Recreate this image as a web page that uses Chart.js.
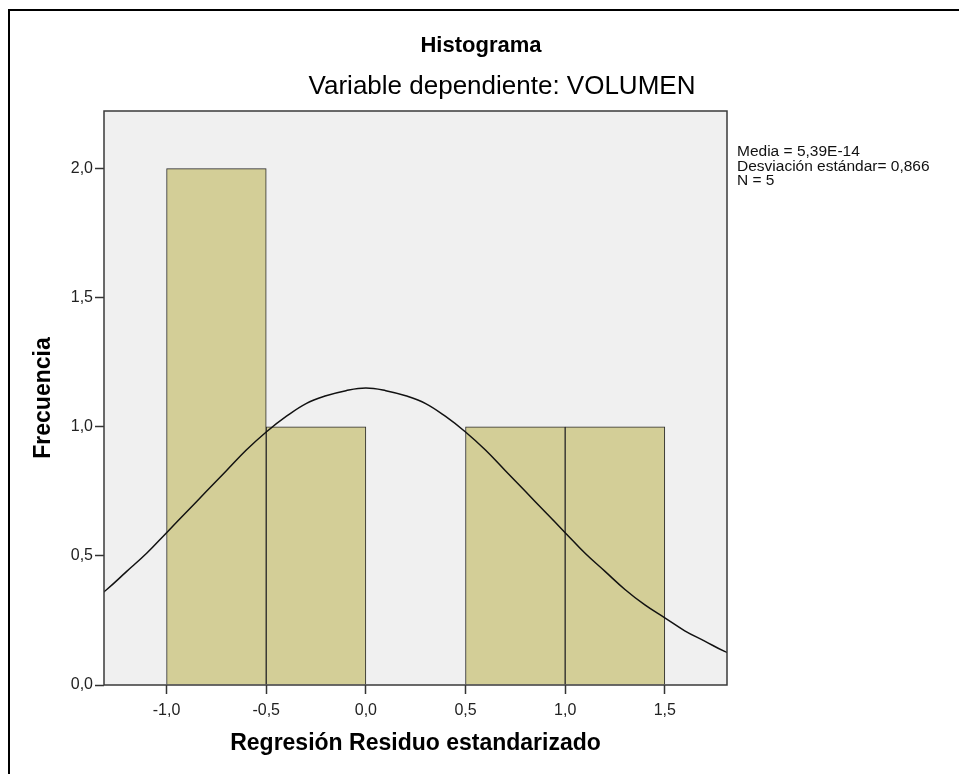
<!DOCTYPE html>
<html>
<head>
<meta charset="utf-8">
<title>Histograma</title>
<script src="https://cdn.jsdelivr.net/npm/chart.js@4.4.1/dist/chart.umd.min.js"></script>
<style>
  html, body { margin: 0; padding: 0; background: #fff; }
  canvas { display: block; }
</style>
</head>
<body>
<canvas id="histChart" width="959" height="774"></canvas>
<script>
// bins of the standardized residual (centre of each 0.5 wide bin) and counts
const binCenters = [-0.75, -0.25, 0.25, 0.75, 1.25];
const binCounts = [2, 1, 0, 1, 1];

// normal curve
const curveX = [-1.4, -1.3, -1.2, -1.1, -1.0, -0.9, -0.8, -0.7, -0.6, -0.5, -0.4, -0.3,
                -0.2, -0.1, 0.0, 0.1, 0.2, 0.3, 0.4, 0.5, 0.6, 0.7, 0.8, 0.9, 1.0,
                1.1, 1.2, 1.3, 1.4, 1.5, 1.6, 1.7, 1.8, 1.9];
const curveY = [0.31, 0.37, 0.44, 0.51, 0.59, 0.67, 0.75, 0.83, 0.91, 0.98, 1.04, 1.09,
                1.12, 1.14, 1.15, 1.14, 1.12, 1.09, 1.04, 0.98, 0.91, 0.83, 0.75, 0.67, 0.59,
                0.51, 0.44, 0.37, 0.31, 0.26, 0.21, 0.17, 0.13, 0.10];

const xTicks = [-1.0, -0.5, 0.0, 0.5, 1.0, 1.5];
const yTicks = [0.0, 0.5, 1.0, 1.5, 2.0];

const chartTitle = 'Histograma';
const chartSubtitle = 'Variable dependiente: VOLUMEN';
const statsLines = ['Media = 5,39E-14', 'Desviación estándar= 0,866', 'N = 5'];

const FONT = '"Liberation Sans", Arial, sans-serif';
Chart.defaults.font.family = FONT;
Chart.defaults.color = '#222';

const commaNum = v => v.toFixed(1).replace('.', ',');

// background, plot frame, outer border, titles and the stats note
const spssFrame = {
    id: 'spssFrame',
    beforeDraw(chart) {
        const { ctx, chartArea: a } = chart;
        ctx.save();
        ctx.fillStyle = '#ffffff';
        ctx.fillRect(0, 0, chart.width, chart.height);
        ctx.fillStyle = '#f0f0f0';
        ctx.fillRect(a.left, a.top, a.right - a.left, a.bottom - a.top);
        ctx.restore();
    },
    afterDraw(chart) {
        const { ctx, chartArea: a } = chart;
        ctx.save();
        ctx.strokeStyle = '#3a3a3a';
        ctx.lineWidth = 1.5;
        ctx.strokeRect(a.left, a.top, a.right - a.left, a.bottom - a.top);

        ctx.fillStyle = '#000';
        ctx.fillRect(8, 9, chart.width - 8, 2);
        ctx.fillRect(8, 9, 2, chart.height - 9);

        ctx.textAlign = 'center';
        ctx.textBaseline = 'middle';
        ctx.fillStyle = '#000';
        ctx.font = 'bold 22px ' + FONT;
        ctx.fillText(chartTitle, 481, 46);
        ctx.font = '26px ' + FONT;
        ctx.fillText(chartSubtitle, 502, 87);

        ctx.textAlign = 'left';
        ctx.font = '15.5px ' + FONT;
        ctx.fillStyle = '#111';
        statsLines.forEach((line, i) => ctx.fillText(line, a.right + 10, 152 + i * 14.5));
        ctx.restore();
    }
};

const ctx = document.getElementById('histChart').getContext('2d');

new Chart(ctx, {
    type: 'bar',
    data: {
        datasets: [{
            type: 'line',
            data: curveX.map((x, i) => ({ x: x, y: curveY[i] })),
            borderColor: '#111',
            borderWidth: 1.5,
            pointRadius: 0,
            tension: 0.4,
            order: 0
        }, {
            type: 'bar',
            data: binCenters.map((x, i) => ({ x: x, y: binCounts[i] })),
            backgroundColor: '#d3ce97',
            borderColor: '#2a2a2a',
            borderWidth: 1,
            barPercentage: 1,
            categoryPercentage: 1,
            order: 1
        }]
    },
    options: {
        responsive: false,
        animation: false,
        events: [],
        layout: { padding: { top: 111, right: 232, left: 0, bottom: 0 } },
        plugins: {
            legend: { display: false },
            tooltip: { enabled: false }
        },
        scales: {
            x: {
                type: 'linear',
                min: -1.314,
                max: 1.812,
                offset: false,
                afterBuildTicks: s => { s.ticks = xTicks.map(v => ({ value: v })); },
                afterFit: s => { s.height = 89; },
                border: { display: false },
                grid: { display: true, drawOnChartArea: false, offset: false, tickLength: 9, tickColor: '#333', tickWidth: 1.5 },
                ticks: { callback: v => commaNum(v), padding: 7, font: { size: 16 }, maxRotation: 0 },
                title: {
                    display: true,
                    text: 'Regresión Residuo estandarizado',
                    font: { size: 23, weight: 'bold' },
                    color: '#000',
                    padding: { top: 0, bottom: 17 }
                }
            },
            y: {
                min: 0,
                max: 2.223,
                afterBuildTicks: s => { s.ticks = yTicks.map(v => ({ value: v })); },
                afterFit: s => { s.width = 104; },
                border: { display: false },
                grid: { display: true, drawOnChartArea: false, tickLength: 9, tickColor: '#333', tickWidth: 1.5 },
                ticks: { callback: v => commaNum(v), padding: 2, font: { size: 16 } },
                title: {
                    display: true,
                    text: 'Frecuencia',
                    font: { size: 23, weight: 'bold' },
                    color: '#000',
                    padding: { top: 30, bottom: 0 }
                }
            }
        }
    },
    plugins: [spssFrame]
});
</script>
</body>
</html>
